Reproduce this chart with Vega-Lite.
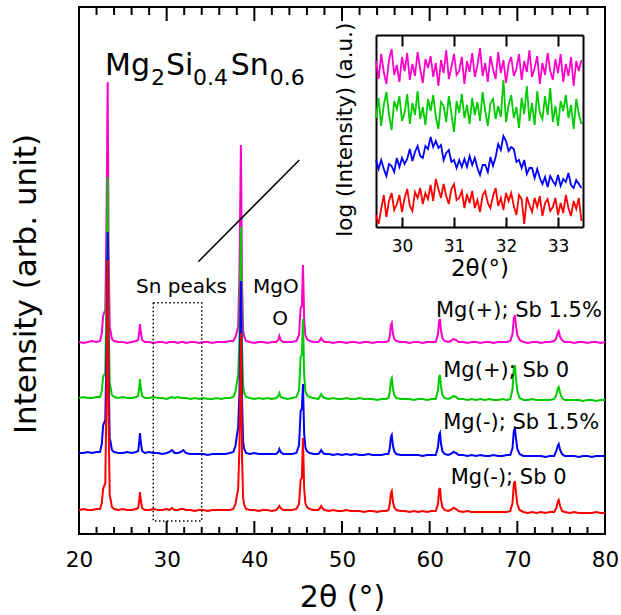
{
  "$schema": "https://vega.github.io/schema/vega-lite/v6.json",
  "width": 526,
  "height": 527,
  "autosize": {"type": "none"},
  "padding": {"left": 79, "top": 7, "right": 16, "bottom": 81},
  "background": "white",
  "config": {
    "view": {"stroke": "black", "strokeWidth": 2},
    "font": "DejaVu Sans",
    "axis": {"grid": false, "labelFont": "DejaVu Sans", "titleFont": "DejaVu Sans", "labelColor": "black", "titleColor": "black", "tickColor": "black", "domainColor": "black", "tickWidth": 2, "domainWidth": 2, "titleFontWeight": "normal", "labelFlush": false, "labelOverlap": false},
    "text": {"font": "DejaVu Sans", "color": "black"}
  },
  "datasets": {
    "main": [
      {"x":20.0,"r":24,"b":81,"g":136,"m":192},{"x":20.5,"r":25,"b":81,"g":137,"m":191},{"x":21.0,"r":24,"b":82,"g":136,"m":192},{"x":21.5,"r":24,"b":81,"g":136,"m":193},{"x":22.0,"r":25,"b":82,"g":137,"m":192},{"x":22.4,"r":25,"b":82,"g":137,"m":193},{"x":22.6,"r":31,"b":90,"g":143,"m":201},{"x":22.75,"r":45,"b":108,"g":157,"m":218},{"x":22.85,"r":48,"b":111,"g":159,"m":221},{"x":23.0,"r":50,"b":114,"g":161,"m":224},{"x":23.15,"r":149,"b":191,"g":246,"m":322},{"x":23.27,"r":274,"b":302,"g":357,"m":452},{"x":23.38,"r":112,"b":158,"g":213,"m":283},{"x":23.5,"r":39,"b":96,"g":151,"m":207},{"x":23.6,"r":35,"b":92,"g":147,"m":203},{"x":23.75,"r":27,"b":84,"g":139,"m":195},{"x":24.0,"r":25,"b":82,"g":137,"m":193},{"x":24.5,"r":24,"b":81,"g":136,"m":192},{"x":25.0,"r":25,"b":81,"g":137,"m":192},{"x":25.5,"r":24,"b":82,"g":136,"m":191},{"x":26.0,"r":24,"b":81,"g":136,"m":192},{"x":26.5,"r":25,"b":82,"g":137,"m":193},{"x":26.75,"r":26,"b":83,"g":138,"m":194},{"x":26.87,"r":33,"b":91,"g":146,"m":201},{"x":26.95,"r":42,"b":101,"g":155,"m":210},{"x":27.05,"r":34,"b":92,"g":146,"m":202},{"x":27.2,"r":26,"b":83,"g":138,"m":194},{"x":27.5,"r":24,"b":81,"g":136,"m":192},{"x":28.0,"r":24,"b":82,"g":136,"m":192},{"x":28.5,"r":25,"b":81,"g":137,"m":191},{"x":29.0,"r":24,"b":81,"g":136,"m":192},{"x":29.5,"r":24,"b":80,"g":136,"m":192},{"x":30.0,"r":25,"b":81,"g":135,"m":191},{"x":30.3,"r":24,"b":82,"g":136,"m":192},{"x":30.6,"r":26,"b":84,"g":137,"m":192},{"x":30.9,"r":24,"b":81,"g":136,"m":192},{"x":31.3,"r":24,"b":81,"g":137,"m":191},{"x":31.6,"r":25,"b":82,"g":136,"m":192},{"x":31.9,"r":25,"b":84,"g":136,"m":192},{"x":32.2,"r":24,"b":81,"g":136,"m":191},{"x":32.7,"r":24,"b":80,"g":135,"m":192},{"x":33.2,"r":23,"b":80,"g":136,"m":192},{"x":33.7,"r":24,"b":80,"g":135,"m":191},{"x":34.2,"r":24,"b":80,"g":136,"m":192},{"x":34.7,"r":23,"b":79,"g":135,"m":192},{"x":35.2,"r":24,"b":80,"g":135,"m":191},{"x":35.7,"r":24,"b":80,"g":136,"m":192},{"x":36.2,"r":24,"b":80,"g":135,"m":192},{"x":36.7,"r":24,"b":80,"g":136,"m":192},{"x":37.2,"r":24,"b":81,"g":136,"m":193},{"x":37.6,"r":25,"b":82,"g":137,"m":193},{"x":37.85,"r":30,"b":88,"g":142,"m":197},{"x":38.0,"r":38,"b":98,"g":151,"m":202},{"x":38.15,"r":44,"b":106,"g":158,"m":207},{"x":38.3,"r":86,"b":141,"g":196,"m":261},{"x":38.47,"r":201,"b":253,"g":307,"m":389},{"x":38.6,"r":77,"b":133,"g":187,"m":251},{"x":38.72,"r":36,"b":92,"g":148,"m":203},{"x":38.85,"r":29,"b":85,"g":141,"m":197},{"x":39.05,"r":25,"b":81,"g":137,"m":193},{"x":39.5,"r":24,"b":80,"g":136,"m":192},{"x":40.0,"r":24,"b":81,"g":135,"m":191},{"x":40.5,"r":23,"b":80,"g":136,"m":192},{"x":41.0,"r":24,"b":80,"g":135,"m":192},{"x":41.5,"r":24,"b":80,"g":136,"m":191},{"x":42.0,"r":23,"b":80,"g":135,"m":192},{"x":42.5,"r":24,"b":80,"g":136,"m":192},{"x":42.72,"r":26,"b":82,"g":138,"m":194},{"x":42.85,"r":28,"b":85,"g":141,"m":198},{"x":43.0,"r":26,"b":82,"g":137,"m":194},{"x":43.3,"r":24,"b":80,"g":136,"m":192},{"x":43.8,"r":24,"b":80,"g":135,"m":192},{"x":44.3,"r":24,"b":80,"g":136,"m":192},{"x":44.8,"r":25,"b":81,"g":137,"m":193},{"x":45.1,"r":30,"b":89,"g":144,"m":199},{"x":45.28,"r":54,"b":123,"g":177,"m":226},{"x":45.42,"r":56,"b":125,"g":179,"m":228},{"x":45.55,"r":96,"b":150,"g":215,"m":269},{"x":45.68,"r":46,"b":101,"g":160,"m":215},{"x":45.82,"r":31,"b":87,"g":143,"m":199},{"x":46.0,"r":27,"b":83,"g":139,"m":195},{"x":46.3,"r":25,"b":81,"g":137,"m":193},{"x":46.8,"r":24,"b":80,"g":136,"m":192},{"x":47.3,"r":24,"b":80,"g":135,"m":192},{"x":47.5,"r":26,"b":82,"g":138,"m":194},{"x":47.62,"r":28,"b":84,"g":140,"m":196},{"x":47.75,"r":26,"b":82,"g":138,"m":194},{"x":48.0,"r":24,"b":80,"g":136,"m":192},{"x":48.5,"r":23,"b":80,"g":135,"m":192},{"x":49.0,"r":24,"b":79,"g":136,"m":191},{"x":49.5,"r":23,"b":80,"g":135,"m":192},{"x":50.0,"r":23,"b":79,"g":135,"m":192},{"x":50.5,"r":24,"b":80,"g":136,"m":191},{"x":51.0,"r":23,"b":79,"g":135,"m":192},{"x":51.5,"r":23,"b":80,"g":135,"m":192},{"x":52.0,"r":23,"b":79,"g":136,"m":191},{"x":52.5,"r":22,"b":79,"g":135,"m":192},{"x":53.0,"r":23,"b":80,"g":135,"m":192},{"x":53.5,"r":23,"b":79,"g":135,"m":191},{"x":54.0,"r":22,"b":79,"g":134,"m":192},{"x":54.5,"r":23,"b":79,"g":135,"m":192},{"x":55.0,"r":23,"b":80,"g":135,"m":192},{"x":55.3,"r":24,"b":80,"g":136,"m":193},{"x":55.45,"r":30,"b":86,"g":142,"m":198},{"x":55.58,"r":41,"b":97,"g":154,"m":209},{"x":55.68,"r":43,"b":99,"g":156,"m":211},{"x":55.8,"r":33,"b":89,"g":146,"m":201},{"x":55.95,"r":27,"b":83,"g":139,"m":195},{"x":56.2,"r":24,"b":80,"g":136,"m":193},{"x":56.7,"r":23,"b":79,"g":135,"m":192},{"x":57.2,"r":23,"b":79,"g":135,"m":192},{"x":57.7,"r":22,"b":79,"g":135,"m":191},{"x":58.2,"r":23,"b":79,"g":134,"m":192},{"x":58.7,"r":22,"b":79,"g":135,"m":192},{"x":59.2,"r":23,"b":78,"g":135,"m":191},{"x":59.7,"r":22,"b":79,"g":134,"m":192},{"x":60.2,"r":23,"b":79,"g":135,"m":192},{"x":60.7,"r":23,"b":79,"g":135,"m":192},{"x":60.95,"r":30,"b":87,"g":144,"m":200},{"x":61.08,"r":44,"b":99,"g":157,"m":213},{"x":61.18,"r":46,"b":101,"g":159,"m":215},{"x":61.3,"r":34,"b":90,"g":147,"m":203},{"x":61.45,"r":27,"b":83,"g":139,"m":196},{"x":61.7,"r":24,"b":80,"g":136,"m":193},{"x":62.1,"r":23,"b":79,"g":135,"m":192},{"x":62.4,"r":24,"b":80,"g":136,"m":193},{"x":62.7,"r":26,"b":82,"g":138,"m":195},{"x":63.0,"r":25,"b":81,"g":137,"m":194},{"x":63.3,"r":23,"b":79,"g":135,"m":192},{"x":63.8,"r":22,"b":79,"g":135,"m":192},{"x":64.3,"r":23,"b":78,"g":134,"m":191},{"x":64.8,"r":22,"b":79,"g":135,"m":192},{"x":65.3,"r":22,"b":78,"g":134,"m":192},{"x":65.8,"r":22,"b":79,"g":135,"m":191},{"x":66.3,"r":22,"b":78,"g":134,"m":192},{"x":66.8,"r":22,"b":78,"g":135,"m":192},{"x":67.3,"r":22,"b":79,"g":134,"m":191},{"x":67.8,"r":22,"b":78,"g":134,"m":192},{"x":68.3,"r":22,"b":78,"g":135,"m":192},{"x":68.8,"r":22,"b":79,"g":134,"m":192},{"x":69.2,"r":23,"b":79,"g":135,"m":193},{"x":69.45,"r":31,"b":86,"g":145,"m":200},{"x":69.6,"r":50,"b":103,"g":166,"m":216},{"x":69.72,"r":53,"b":106,"g":169,"m":219},{"x":69.85,"r":41,"b":95,"g":155,"m":208},{"x":70.0,"r":30,"b":85,"g":143,"m":199},{"x":70.25,"r":24,"b":80,"g":136,"m":194},{"x":70.7,"r":22,"b":78,"g":134,"m":192},{"x":71.2,"r":21,"b":78,"g":134,"m":191},{"x":71.7,"r":22,"b":78,"g":135,"m":192},{"x":72.2,"r":21,"b":78,"g":134,"m":192},{"x":72.7,"r":22,"b":78,"g":134,"m":191},{"x":73.2,"r":21,"b":77,"g":134,"m":192},{"x":73.7,"r":22,"b":78,"g":134,"m":192},{"x":74.2,"r":22,"b":78,"g":135,"m":193},{"x":74.45,"r":26,"b":83,"g":139,"m":196},{"x":74.6,"r":32,"b":88,"g":145,"m":201},{"x":74.72,"r":34,"b":90,"g":147,"m":203},{"x":74.88,"r":28,"b":84,"g":141,"m":197},{"x":75.1,"r":23,"b":80,"g":136,"m":194},{"x":75.4,"r":22,"b":78,"g":134,"m":192},{"x":76.0,"r":21,"b":78,"g":134,"m":192},{"x":76.5,"r":22,"b":78,"g":134,"m":191},{"x":77.0,"r":21,"b":77,"g":134,"m":192},{"x":77.5,"r":21,"b":78,"g":133,"m":192},{"x":78.0,"r":21,"b":78,"g":134,"m":191},{"x":78.5,"r":21,"b":77,"g":134,"m":192},{"x":79.0,"r":22,"b":78,"g":133,"m":192},{"x":79.5,"r":21,"b":78,"g":134,"m":191},{"x":80.0,"r":21,"b":78,"g":134,"m":192}
    ],
    "inset": [
      {"x":29.50,"m":166,"g":109,"b":67,"r":12},{"x":29.55,"m":148,"g":129,"b":58,"r":3},{"x":29.60,"m":173,"g":101,"b":67,"r":18},{"x":29.65,"m":155,"g":122,"b":58,"r":32},{"x":29.70,"m":143,"g":135,"b":51,"r":10},{"x":29.75,"m":167,"g":113,"b":63,"r":26},{"x":29.80,"m":178,"g":97,"b":61,"r":34},{"x":29.85,"m":152,"g":126,"b":55,"r":17},{"x":29.90,"m":162,"g":118,"b":69,"r":23},{"x":29.95,"m":145,"g":131,"b":60,"r":32},
      {"x":30.00,"m":170,"g":106,"b":69,"r":15},{"x":30.05,"m":156,"g":114,"b":63,"r":29},{"x":30.10,"m":174,"g":133,"b":68,"r":38},{"x":30.15,"m":147,"g":103,"b":78,"r":21},{"x":30.20,"m":163,"g":124,"b":66,"r":16},{"x":30.25,"m":151,"g":112,"b":75,"r":35},{"x":30.30,"m":175,"g":136,"b":81,"r":29},{"x":30.35,"m":158,"g":108,"b":71,"r":39},{"x":30.40,"m":144,"g":120,"b":69,"r":23},{"x":30.45,"m":168,"g":102,"b":81,"r":34},
      {"x":30.50,"m":159,"g":128,"b":78,"r":28},{"x":30.55,"m":171,"g":116,"b":90,"r":42},{"x":30.60,"m":150,"g":132,"b":80,"r":26},{"x":30.65,"m":164,"g":110,"b":86,"r":48},{"x":30.70,"m":141,"g":98,"b":79,"r":38},{"x":30.75,"m":167,"g":125,"b":82,"r":29},{"x":30.80,"m":154,"g":121,"b":67,"r":43},{"x":30.85,"m":177,"g":105,"b":74,"r":31},{"x":30.90,"m":148,"g":131,"b":77,"r":23},{"x":30.95,"m":160,"g":113,"b":65,"r":38},
      {"x":31.00,"m":173,"g":95,"b":67,"r":43},{"x":31.05,"m":152,"g":126,"b":59,"r":27},{"x":31.10,"m":156,"g":114,"b":67,"r":29},{"x":31.15,"m":170,"g":133,"b":60,"r":36},{"x":31.20,"m":143,"g":109,"b":68,"r":19},{"x":31.25,"m":166,"g":122,"b":60,"r":33},{"x":31.30,"m":155,"g":103,"b":71,"r":24},{"x":31.35,"m":174,"g":129,"b":62,"r":36},{"x":31.40,"m":150,"g":112,"b":69,"r":19},{"x":31.45,"m":162,"g":125,"b":59,"r":27},
      {"x":31.50,"m":179,"g":106,"b":52,"r":15},{"x":31.55,"m":151,"g":135,"b":62,"r":32},{"x":31.60,"m":164,"g":116,"b":62,"r":36},{"x":31.65,"m":145,"g":101,"b":55,"r":24},{"x":31.70,"m":171,"g":124,"b":70,"r":19},{"x":31.75,"m":158,"g":128,"b":61,"r":31},{"x":31.80,"m":148,"g":108,"b":70,"r":39},{"x":31.85,"m":175,"g":121,"b":83,"r":21},{"x":31.90,"m":154,"g":110,"b":77,"r":29},{"x":31.95,"m":167,"g":147,"b":91,"r":17},
      {"x":32.00,"m":144,"g":105,"b":86,"r":34},{"x":32.05,"m":163,"g":122,"b":76,"r":26},{"x":32.10,"m":170,"g":132,"b":80,"r":34},{"x":32.15,"m":151,"g":109,"b":78,"r":21},{"x":32.20,"m":158,"g":120,"b":65,"r":12},{"x":32.25,"m":173,"g":99,"b":67,"r":32},{"x":32.30,"m":147,"g":129,"b":59,"r":28},{"x":32.35,"m":166,"g":113,"b":67,"r":3},{"x":32.40,"m":155,"g":141,"b":53,"r":30},{"x":32.45,"m":177,"g":106,"b":59,"r":22},
      {"x":32.50,"m":150,"g":124,"b":59,"r":15},{"x":32.55,"m":159,"g":102,"b":49,"r":29},{"x":32.60,"m":171,"g":136,"b":58,"r":20},{"x":32.65,"m":143,"g":114,"b":49,"r":31},{"x":32.70,"m":164,"g":108,"b":43,"r":11},{"x":32.75,"m":152,"g":131,"b":50,"r":24},{"x":32.80,"m":174,"g":112,"b":40,"r":28},{"x":32.85,"m":156,"g":139,"b":51,"r":16},{"x":32.90,"m":147,"g":105,"b":46,"r":20},{"x":32.95,"m":168,"g":121,"b":42,"r":29},
      {"x":33.00,"m":154,"g":101,"b":52,"r":12},{"x":33.05,"m":173,"g":126,"b":41,"r":24},{"x":33.10,"m":145,"g":116,"b":48,"r":14},{"x":33.15,"m":163,"g":132,"b":45,"r":32},{"x":33.20,"m":151,"g":109,"b":54,"r":19},{"x":33.25,"m":170,"g":122,"b":42,"r":11},{"x":33.30,"m":141,"g":98,"b":39,"r":26},{"x":33.35,"m":166,"g":128,"b":47,"r":18},{"x":33.40,"m":156,"g":113,"b":43,"r":29},{"x":33.45,"m":167,"g":103,"b":39,"r":6}
    ],
    "tk": [
      {"v":20,"k":"major"},{"v":22,"k":"minor"},{"v":24,"k":"minor"},{"v":26,"k":"minor"},{"v":28,"k":"minor"},{"v":30,"k":"major"},{"v":32,"k":"minor"},{"v":34,"k":"minor"},{"v":36,"k":"minor"},{"v":38,"k":"minor"},{"v":40,"k":"major"},{"v":42,"k":"minor"},{"v":44,"k":"minor"},{"v":46,"k":"minor"},{"v":48,"k":"minor"},{"v":50,"k":"major"},{"v":52,"k":"minor"},{"v":54,"k":"minor"},{"v":56,"k":"minor"},{"v":58,"k":"minor"},{"v":60,"k":"major"},{"v":62,"k":"minor"},{"v":64,"k":"minor"},{"v":66,"k":"minor"},{"v":68,"k":"minor"},{"v":70,"k":"major"},{"v":72,"k":"minor"},{"v":74,"k":"minor"},{"v":76,"k":"minor"},{"v":78,"k":"minor"},{"v":80,"k":"major"}
    ]
  },
  "layer": [
    {
      "data": {"name": "main"},
      "transform": [{"fold": ["m", "g", "b", "r"], "as": ["s", "y"]}],
      "mark": {"type": "line", "strokeWidth": 2},
      "encoding": {
        "x": {"field": "x", "type": "quantitative", "scale": {"domain": [20, 80], "nice": false, "zero": false},
          "axis": {"orient": "bottom", "values": [20, 30, 40, 50, 60, 70, 80], "ticks": false, "domain": false, "labelFontSize": 21.5, "labelPadding": 15, "title": "2θ (°)", "titleFontSize": 30, "titleY": 72.7, "titleBaseline": "alphabetic"}},
        "y": {"field": "y", "type": "quantitative", "scale": {"domain": [0, 527], "nice": false, "zero": false},
          "axis": {"orient": "left", "domain": false, "ticks": false, "labels": false, "title": "Intensity (arb. unit)", "titleFontSize": 31, "titleX": -44, "titleY": 276.5, "titleBaseline": "alphabetic"}},
        "color": {"field": "s", "type": "nominal", "scale": {"domain": ["m", "g", "b", "r"], "range": ["#FF00CC", "#00CC00", "#0000FF", "#FF0000"]}, "legend": null}
      }
    },
    {
      "data": {"name": "tk"},
      "transform": [{"filter": "datum.k === 'minor'"}],
      "mark": {"type": "rule", "strokeWidth": 2, "color": "black"},
      "encoding": {
        "x": {"field": "v", "type": "quantitative", "scale": {"domain": [20, 80], "nice": false, "zero": false}, "axis": null},
        "y": {"datum": 0, "type": "quantitative", "scale": {"domain": [0, 527], "nice": false, "zero": false}, "axis": null},
        "y2": {"datum": 7}
      }
    },
    {
      "data": {"name": "tk"},
      "transform": [{"filter": "datum.k === 'major'"}],
      "mark": {"type": "rule", "strokeWidth": 2, "color": "black"},
      "encoding": {
        "x": {"field": "v", "type": "quantitative", "scale": {"domain": [20, 80], "nice": false, "zero": false}, "axis": null},
        "y": {"datum": 0, "type": "quantitative", "scale": {"domain": [0, 527], "nice": false, "zero": false}, "axis": null},
        "y2": {"datum": 13}
      }
    },
    {
      "data": {"name": "tk"},
      "transform": [{"filter": "datum.k === 'minor'"}],
      "mark": {"type": "rule", "strokeWidth": 2, "color": "black"},
      "encoding": {
        "x": {"field": "v", "type": "quantitative", "scale": {"domain": [20, 80], "nice": false, "zero": false}, "axis": null},
        "y": {"datum": 519, "type": "quantitative", "scale": {"domain": [0, 527], "nice": false, "zero": false}, "axis": null},
        "y2": {"datum": 527}
      }
    },
    {
      "data": {"name": "tk"},
      "transform": [{"filter": "datum.k === 'major'"}],
      "mark": {"type": "rule", "strokeWidth": 2, "color": "black"},
      "encoding": {
        "x": {"field": "v", "type": "quantitative", "scale": {"domain": [20, 80], "nice": false, "zero": false}, "axis": null},
        "y": {"datum": 513, "type": "quantitative", "scale": {"domain": [0, 527], "nice": false, "zero": false}, "axis": null},
        "y2": {"datum": 527}
      }
    },
    {
      "data": {"values": [{}]},
      "mark": {"type": "rect", "fill": "white", "fillOpacity": 0, "stroke": "black", "strokeWidth": 1.5, "strokeDash": [1.5, 2.5]},
      "encoding": {
        "x": {"datum": 28.47, "type": "quantitative", "scale": {"domain": [20, 80], "nice": false, "zero": false}, "axis": null},
        "x2": {"datum": 34.0},
        "y": {"datum": 231.3, "type": "quantitative", "scale": {"domain": [0, 527], "nice": false, "zero": false}, "axis": null},
        "y2": {"datum": 13}
      }
    },
    {
      "data": {"values": [{}]},
      "mark": {"type": "rule", "strokeWidth": 1.5, "color": "black"},
      "encoding": {
        "x": {"datum": 33.61, "type": "quantitative", "scale": {"domain": [20, 80], "nice": false, "zero": false}, "axis": null},
        "x2": {"datum": 45.13},
        "y": {"datum": 272.3, "type": "quantitative", "scale": {"domain": [0, 527], "nice": false, "zero": false}, "axis": null},
        "y2": {"datum": 374}
      }
    },
    {
      "data": {"values": [
        {"t": "Mg", "x": 22.97, "y": 459, "f": "big"},
        {"t": "2", "x": 28.21, "y": 449, "f": "sub"},
        {"t": "Si", "x": 29.92, "y": 459, "f": "big"},
        {"t": "0.4", "x": 33.0, "y": 449, "f": "sub"},
        {"t": "Sn", "x": 37.3, "y": 459, "f": "big"},
        {"t": "0.6", "x": 41.75, "y": 449, "f": "sub"}
      ]},
      "mark": {"type": "text", "align": "left", "baseline": "alphabetic"},
      "encoding": {
        "x": {"field": "x", "type": "quantitative", "scale": {"domain": [20, 80], "nice": false, "zero": false}, "axis": null},
        "y": {"field": "y", "type": "quantitative", "scale": {"domain": [0, 527], "nice": false, "zero": false}, "axis": null},
        "text": {"field": "t"},
        "size": {"field": "f", "type": "nominal", "scale": {"domain": ["big", "sub"], "range": [30, 22]}, "legend": null}
      }
    },
    {
      "data": {"values": [
        {"t": "Sn peaks", "x": 31.69, "y": 241},
        {"t": "MgO", "x": 42.46, "y": 241},
        {"t": "O", "x": 42.93, "y": 209}
      ]},
      "mark": {"type": "text", "align": "center", "baseline": "alphabetic", "fontSize": 20},
      "encoding": {
        "x": {"field": "x", "type": "quantitative", "scale": {"domain": [20, 80], "nice": false, "zero": false}, "axis": null},
        "y": {"field": "y", "type": "quantitative", "scale": {"domain": [0, 527], "nice": false, "zero": false}, "axis": null},
        "text": {"field": "t"}
      }
    },
    {
      "data": {"values": [
        {"t": "Mg(+); Sb 1.5%", "x": 60.72, "y": 216.7},
        {"t": "Mg(+); Sb 0", "x": 61.55, "y": 157.3},
        {"t": "Mg(-); Sb 1.5%", "x": 61.55, "y": 104.7},
        {"t": "Mg(-); Sb 0", "x": 62.4, "y": 50}
      ]},
      "mark": {"type": "text", "align": "left", "baseline": "alphabetic", "fontSize": 21},
      "encoding": {
        "x": {"field": "x", "type": "quantitative", "scale": {"domain": [20, 80], "nice": false, "zero": false}, "axis": null},
        "y": {"field": "y", "type": "quantitative", "scale": {"domain": [0, 527], "nice": false, "zero": false}, "axis": null},
        "text": {"field": "t"}
      }
    },
    {
      "data": {"name": "inset"},
      "transform": [{"fold": ["m", "g", "b", "r"], "as": ["s", "y"]}],
      "mark": {"type": "line", "strokeWidth": 1.8},
      "encoding": {
        "x": {"field": "x", "type": "quantitative", "scale": {"domain": [29.5, 33.48], "range": [297, 504], "nice": false, "zero": false},
          "axis": {"orient": "bottom", "offset": -307, "values": [30, 31, 32, 33], "tickSize": -10, "labelFontSize": 17, "labelPadding": 21.7, "title": "2θ(°)", "titleFontSize": 23, "titleY": 48.3, "titleBaseline": "alphabetic"}},
        "y": {"field": "y", "type": "quantitative", "scale": {"domain": [0, 192], "range": [220, 28], "nice": false, "zero": false},
          "axis": {"orient": "left", "offset": -297, "ticks": false, "labels": false, "title": "log (Intensity) (a.u.)", "titleFontSize": 21.5, "titleX": -24.7, "titleY": 122.2, "titleBaseline": "alphabetic"}},
        "color": {"field": "s", "type": "nominal", "scale": {"domain": ["m", "g", "b", "r"], "range": ["#FF00CC", "#00CC00", "#0000FF", "#FF0000"]}, "legend": null}
      }
    },
    {
      "data": {"name": "inset"},
      "mark": {"type": "point", "opacity": 0},
      "encoding": {
        "x": {"field": "x", "type": "quantitative", "scale": {"domain": [29.5, 33.48], "range": [297, 504], "nice": false, "zero": false},
          "axis": {"orient": "top", "offset": -28, "values": [30, 31, 32, 33], "tickSize": -11, "labels": false, "title": null}},
        "y": {"field": "m", "type": "quantitative", "scale": {"domain": [0, 192], "range": [220, 28], "nice": false, "zero": false},
          "axis": {"orient": "right", "offset": -22, "ticks": false, "labels": false, "title": null}}
      }
    }
  ],
  "resolve": {"scale": {"x": "independent", "y": "independent", "color": "independent", "size": "independent"}, "axis": {"x": "independent", "y": "independent"}}
}
